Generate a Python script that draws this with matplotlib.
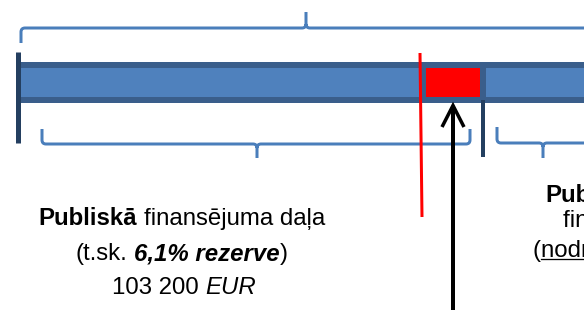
import matplotlib.pyplot as plt
from matplotlib.path import Path
from matplotlib.patches import PathPatch, Rectangle

# labels and values shown in the diagram
reserve_share = "6,1%"
public_amount = "103 200"
currency = "EUR"
left_title = ["Publiskā", "finansējuma daļa"]
reserve_word = "rezerve"
right_title = ["Publiskā", "un privātā", "finansējuma daļa"]
right_note = "nodrošina partneri"

W, H = 584, 310
FONT = "Liberation Sans"
FS = 17.3
BLUE = "#4F81BD"
BAND = "#3A5E8B"
NAVY = "#243F60"
BRACE = "#4A7EBB"
PT = 72 / 100  # points per pixel

fig = plt.figure(figsize=(W / 100, H / 100), dpi=100)
ax = fig.add_axes([0, 0, 1, 1])
ax.set_xlim(0, W)
ax.set_ylim(H, 0)
ax.axis("off")
fig.set_facecolor("white")


def brace(x0, x1, y, hook, tx, ty, r=4):
    sh = 1 if hook > y else -1
    st = 1 if ty > y else -1
    verts = [(x0, hook), (x0, y + sh * r), (x0, y), (x0 + r, y),
             (tx - r, y), (tx, y), (tx, y + st * r), (tx, ty),
             (tx, y + st * r), (tx, y), (tx + r, y),
             (x1 - r, y), (x1, y), (x1, y + sh * r), (x1, hook)]
    codes = [Path.MOVETO, Path.LINETO, Path.CURVE3, Path.CURVE3,
             Path.LINETO, Path.CURVE3, Path.CURVE3, Path.LINETO,
             Path.MOVETO, Path.CURVE3, Path.CURVE3,
             Path.LINETO, Path.CURVE3, Path.CURVE3, Path.LINETO]
    ax.add_patch(PathPatch(Path(verts, codes), fc="none", ec=BRACE,
                           lw=3 * PT, capstyle="butt", joinstyle="round"))


def runs(parts, x, y, ha="center"):
    # parts: (text, weight, style, underline, space_before)
    objs = [ax.text(0, y, p[0], fontsize=FS, family=FONT, fontweight=p[1],
                    fontstyle=p[2], va="baseline", ha="left") for p in parts]
    rend = fig.canvas.get_renderer()
    widths = [t.get_window_extent(rend).width for t in objs]
    space = 0.278 * FS / PT
    total = sum(widths) + space * sum(1 for p in parts if p[4])
    cur = x - total / 2 if ha == "center" else x
    for t, w, p in zip(objs, widths, parts):
        if p[4]:
            cur += space
        t.set_x(cur)
        if p[3]:
            ax.plot([cur, cur + w], [y + 2, y + 2], color="black", lw=1.3 * PT)
        cur += w


# bar with the reserve segment
ax.add_patch(Rectangle((20, 62), 620, 41, fc=BAND, ec="none"))
ax.add_patch(Rectangle((20, 68), 401, 29, fc=BLUE, ec="none"))
ax.add_patch(Rectangle((426, 68), 54, 29, fc="red", ec="none"))
ax.add_patch(Rectangle((486, 68), 140, 29, fc=BLUE, ec="none"))

# markers
ax.plot([17.5, 17.5], [52, 143], color=NAVY, lw=5 * PT, solid_capstyle="butt")
ax.plot([483, 483], [100, 157], color=NAVY, lw=4 * PT, solid_capstyle="butt")
ax.plot([420, 422], [53, 217], color="red", lw=3 * PT, solid_capstyle="butt")

# braces
brace(21, 640, 28, 43, 306, 12)
brace(42, 470, 144, 129, 257, 158)
brace(497, 660, 143, 127, 543, 158)

# arrow
ax.plot([453, 453], [312, 107], color="black", lw=4 * PT, solid_capstyle="butt")
ax.plot([442, 453, 464], [127, 105.5, 127], color="black", lw=3.5 * PT,
        solid_joinstyle="miter", solid_capstyle="butt")

# left label
runs([(left_title[0], "bold", "normal", False, False),
      (left_title[1], "normal", "normal", False, True)], 182, 225)
runs([("(t.sk.", "normal", "normal", False, False),
      (reserve_share + " " + reserve_word, "bold", "italic", False, True),
      (")", "normal", "normal", False, False)], 182, 260)
runs([(public_amount, "normal", "normal", False, False),
      (currency, "normal", "italic", False, True)], 184, 294)

# right label (cut by the edge, as in the source)
runs([(right_title[0], "bold", "normal", False, False),
      (right_title[1], "normal", "normal", False, True)], 545, 202, ha="left")
runs([(right_title[2], "normal", "normal", False, False)], 563, 227, ha="left")
runs([("(", "normal", "normal", False, False),
      (right_note, "normal", "normal", True, False),
      (")", "normal", "normal", False, False)], 533, 257, ha="left")

fig.savefig("out.png", dpi=100, facecolor="white")
